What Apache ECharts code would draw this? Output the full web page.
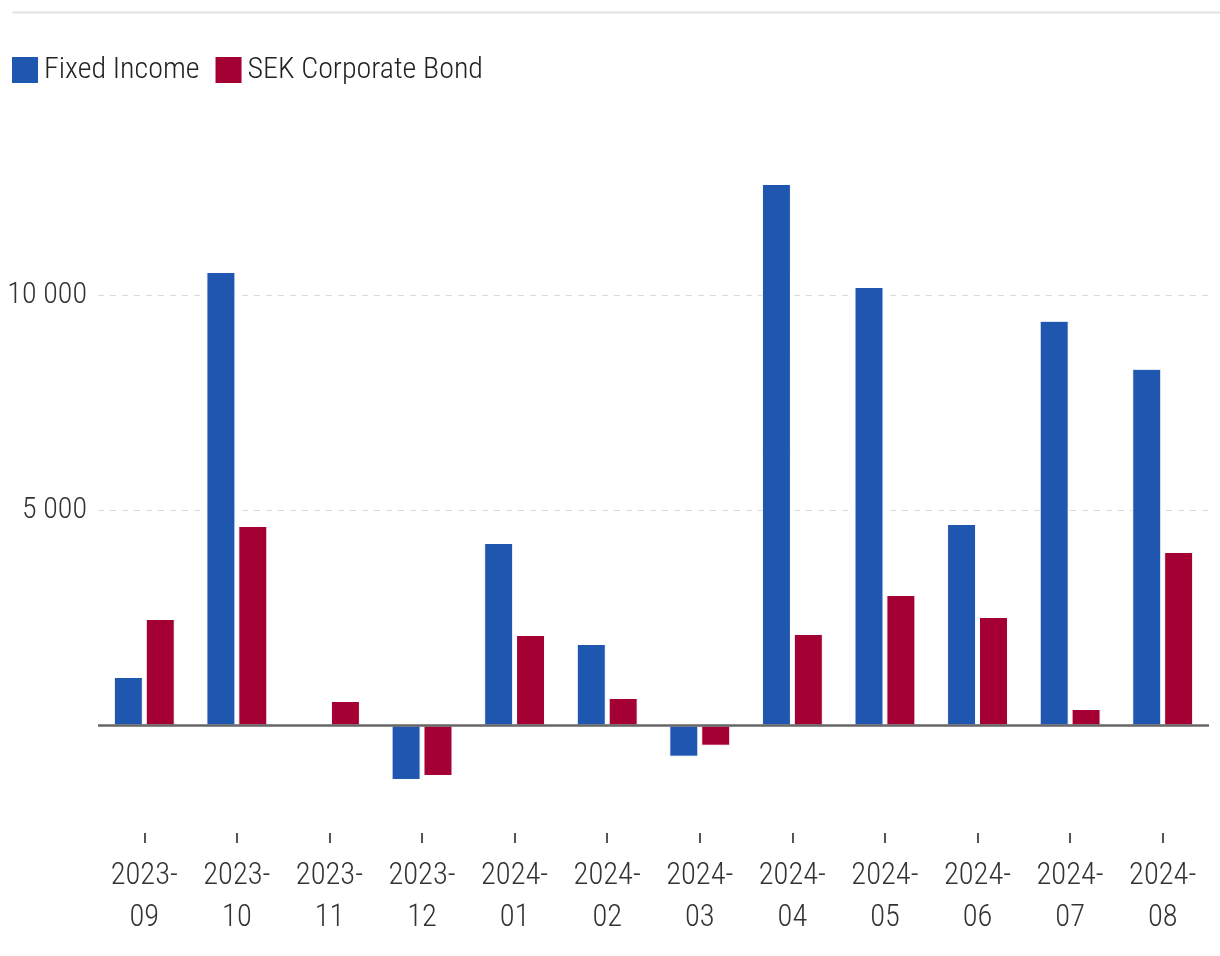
<!DOCTYPE html>
<html>
<head>
<meta charset="utf-8">
<script src="https://cdn.jsdelivr.net/npm/echarts@6/dist/echarts.min.js"></script>
<style>
html,body{margin:0;padding:0;background:#fff;}
#chart{width:1220px;height:956px;}
</style>
</head>
<body>
<div id="chart"></div>
<script>
const categories = ['2023-09','2023-10','2023-11','2023-12','2024-01','2024-02','2024-03','2024-04','2024-05','2024-06','2024-07','2024-08'];
const fixedIncome = [1128, 10547, 0, -1267, 4244, 1895, -725, 12593, 10198, 4686, 9412, 8295];
const sekCorporateBond = [2477, 4640, 570, -1174, 2105, 640, -470, 2128, 3035, 2523, 384, 4035];
const seriesNames = ['Fixed Income', 'SEK Corporate Bond'];
const colors = ['#1f56b0', '#a50034'];

const FONT = 'Roboto, "Noto Sans", sans-serif';
const FW = '300 condensed';
const chart = echarts.init(document.getElementById('chart'), null, {renderer: 'canvas'});
chart.setOption({
  animation: false,
  graphic: [{
    type: 'line', left: 10, top: 10,
    shape: {x1: 0, y1: 0, x2: 1210, y2: 0},
    style: {stroke: '#e2e2e2', lineWidth: 2}
  }],
  legend: {
    left: 10, top: 55, padding: 0,
    icon: 'rect', itemWidth: 28, itemHeight: 28, itemGap: 14,
    textStyle: {fontFamily: FONT, fontWeight: FW, fontSize: 30, color: '#222', padding: [2, 0, 0, 0]},
    data: seriesNames
  },
  grid: {left: 98, right: 11, top: 80.5, bottom: 123, containLabel: false, outerBoundsMode: 'none'},
  xAxis: {
    type: 'category',
    data: categories,
    axisLine: {show: false, onZero: false},
    axisTick: {show: true, alignWithLabel: true, length: 10, lineStyle: {color: '#555', width: 2}},
    axisLabel: {
      interval: 0,
      fontFamily: FONT, fontWeight: FW, fontSize: 30.5, color: '#333', lineHeight: 42, margin: 22,
      formatter: v => v.replace('-', '-\n')
    },
    splitLine: {show: false}
  },
  yAxis: {
    type: 'value',
    min: -2500, max: 15000, interval: 2500,
    axisLine: {show: false},
    axisTick: {show: false},
    axisLabel: {
      fontFamily: FONT, fontWeight: FW, fontSize: 30, color: '#333', margin: 11,
      formatter: v => (v === 5000 || v === 10000) ? String(v).replace(/\B(?=(\d{3})+(?!\d))/g, ' ') : ''
    },
    splitLine: {
      show: true,
      lineStyle: {
        type: [6, 6],
        width: 1,
        color: ['rgba(0,0,0,0)','rgba(0,0,0,0)','rgba(0,0,0,0)','#d9d9d9','rgba(0,0,0,0)','#d9d9d9','rgba(0,0,0,0)','rgba(0,0,0,0)']
      }
    }
  },
  series: [
    {
      name: seriesNames[0], type: 'bar', data: fixedIncome,
      barWidth: 29, barGap: '10%',
      itemStyle: {color: colors[0], borderColor: '#fff', borderWidth: 1},
      markLine: {
        silent: true, symbol: 'none', label: {show: false},
        lineStyle: {color: '#666', width: 2.5, type: 'solid'},
        data: [{yAxis: 0}]
      }
    },
    {
      name: seriesNames[1], type: 'bar', data: sekCorporateBond,
      barWidth: 29,
      itemStyle: {color: colors[1], borderColor: '#fff', borderWidth: 1}
    }
  ]
});
</script>
</body>
</html>
